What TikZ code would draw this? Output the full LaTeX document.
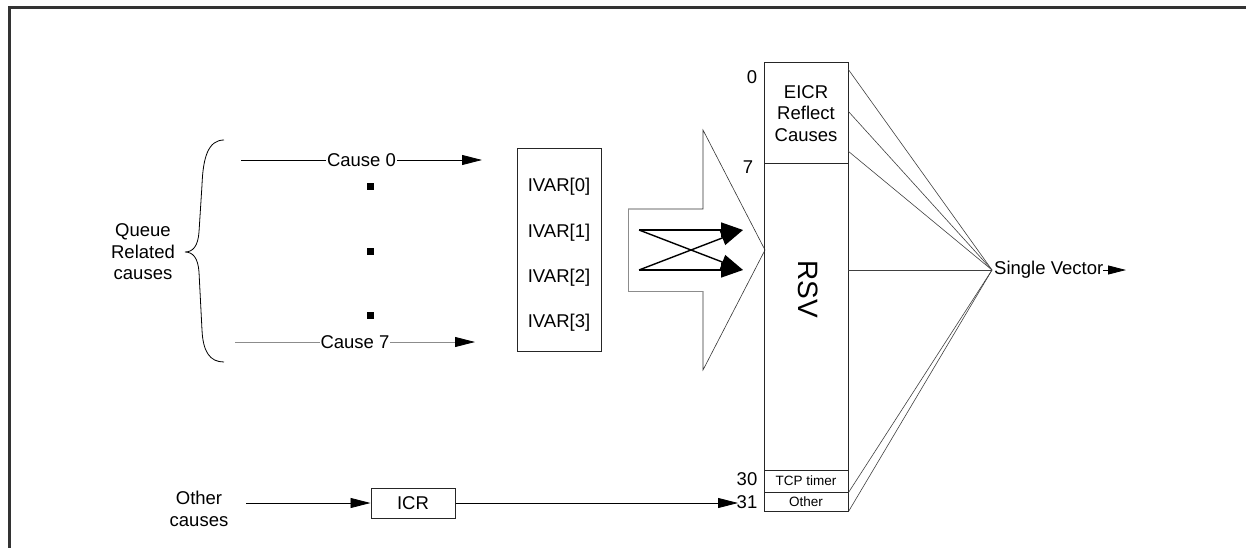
\documentclass[tikz,border=0pt]{standalone}
\usepackage{fontspec}
\setmainfont{Liberation Sans}
\usetikzlibrary{positioning,arrows.meta,calc}
\definecolor{framecol}{HTML}{333333}
\definecolor{lightln}{HTML}{8C8C8C}

\begin{document}
\begin{tikzpicture}[x=1pt, y=-1pt,
    every node/.style={font=\fontsize{18.5}{21.5}\selectfont, inner sep=0pt},
    box/.style={draw=black!85, line width=1pt, minimum width=84pt},
    cell/.style={box, font=\fontsize{13.5}{15}\selectfont},
    dotsq/.style={fill=black, minimum size=7pt},
    cause/.style={line width=0.8pt, -{Triangle[length=20pt,width=10pt,color=black,fill=black]}},
    swap/.style={line width=1.4pt, -{Triangle[length=22pt,width=15pt]}},
    fan/.style={draw=black!75, line width=0.6pt},
    lbl/.style={fill=white, inner xsep=1pt, inner ysep=2pt}]
  \useasboundingbox (0,0) rectangle (1246,548);
  \draw[framecol, line width=2.5pt] (1246,7.5) -- (9.5,7.5) -- (9.5,548);

  % queue related causes
  \node[align=center] (queue) at (143,252) {Queue\\Related\\causes};
  \draw[line width=0.8pt] (224,140) .. controls (208,140) and (203,158) .. (202,185)
    -- (199,232) .. controls (198,246) and (193,252) .. (185,252)
    .. controls (193,252) and (198,258) .. (199,272)
    -- (202,330) .. controls (203,352) and (210,362) .. (224,362);
  \coordinate (c0s) at (241,160); \coordinate (c0e) at (482,160);
  \coordinate (c7s) at (235,342); \coordinate (c7e) at (475,342);
  \draw[cause] (c0s) -- node[lbl]{Cause 0} (c0e);
  \draw[cause, draw=lightln] (c7s) -- node[lbl]{Cause 7} (c7e);
  \foreach \y [count=\i] in {186,251,315}
    \node[dotsq] (dot\i) at (370,\y) {};

  % IVAR table
  \node[box, minimum height=202pt] (ivar) at (559,250) {};
  \foreach \i/\y in {0/187,1/233,2/278,3/323}
    \node (iv\i) at (559,\y) {IVAR[\i]};

  % fat arrow with crossing
  \draw[black!80, line width=0.6pt] (628,209) -- (703,209) -- (703,130) -- (765,250) -- (703,370) -- (703,291);
  \draw[lightln, line width=0.8pt] (703,291) -- (628,291) -- (628,209);
  \coordinate (xl1) at (639,230); \coordinate (xl2) at (639,270);
  \coordinate (xr1) at (743,230); \coordinate (xr2) at (743,270);
  \draw[swap] (xl1) -- (xr1);
  \draw[swap] (xl1) -- (xr2);
  \draw[swap] (xl2) -- (xr2);
  \draw[swap] (xl2) -- (xr1);

  % vector column
  \node[box, minimum height=101pt, align=center] (eicr) at (806,113.5) {EICR\\Reflect\\Causes};
  \node[box, minimum height=306pt] (rsv) at (806,317) {};
  \node[cell, minimum height=22pt] (tcp) at (806,481) {TCP timer};
  \node[cell, minimum height=19pt] (oth) at (806,501.5) {Other};
  \node[rotate=-90, font=\fontsize{28}{30}\selectfont] (rsvlbl) at (808,289) {RSV};
  \node (n0) at (752,77) {0};
  \node (n7) at (748,167) {7};
  \node (n30) at (747,479) {30};
  \node (n31) at (747,502) {31};

  % single vector
  \coordinate (sv) at (992,270);
  \foreach \n/\y in {f1/69,f2/111,f3/151,f4/270}
    \coordinate (\n) at (848,\y);
  \foreach \n in {f1,f2,f3,f4}
    \draw[fan] (\n) -- (sv);
  \draw[fan] (tcp.south east) -- (sv);
  \draw[fan] (oth.south east) -- (sv);
  \node[anchor=west] (svlbl) at (994,270) {Single Vector};
  \coordinate (svend) at (1126,270);
  \draw[line width=0.8pt, -{Triangle[length=18pt,width=9pt]}] (svlbl) -- (svend);

  % other causes
  \node[align=center] (othc) at (199,509) {Other\\causes};
  \coordinate (ocs) at (246,503);
  \node[box, minimum height=30pt] (icr) at (413,503) {ICR};
  \coordinate (in31) at (738,503);
  \draw[cause] (ocs) -- (icr);
  \draw[cause] (icr) -- (in31);
\end{tikzpicture}
\end{document}
